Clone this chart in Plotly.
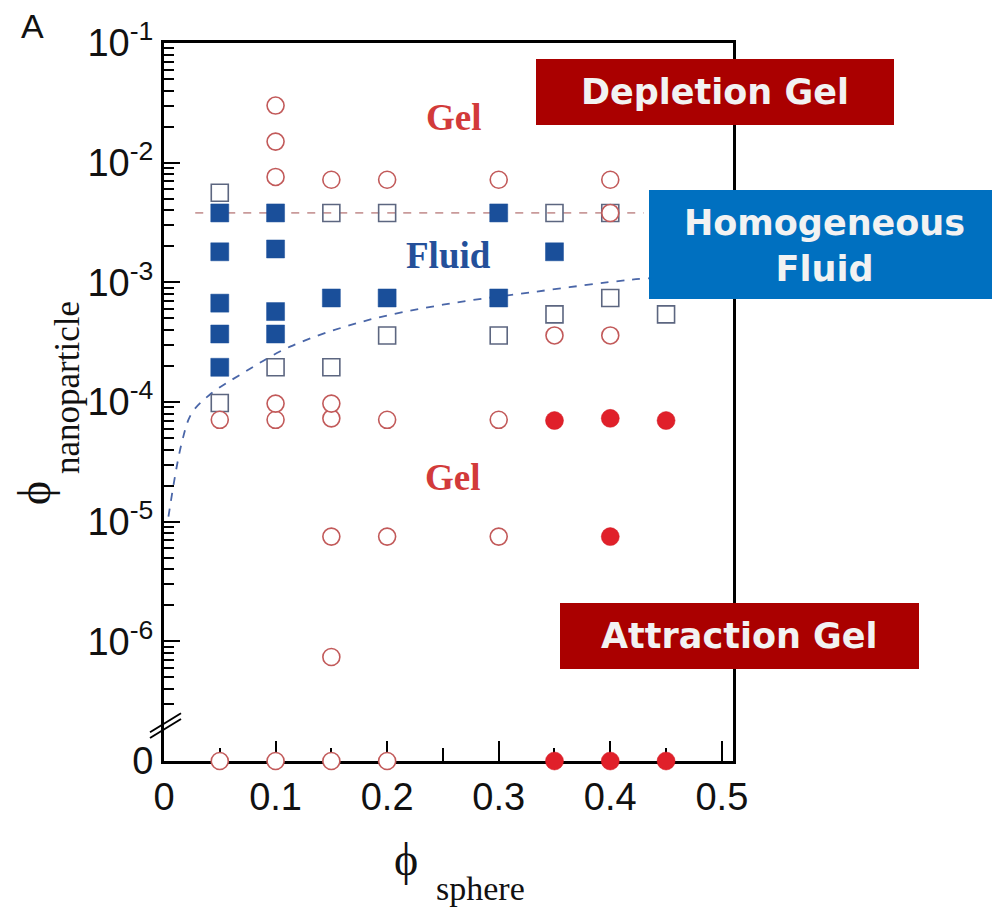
import plotly.graph_objects as go

# ---------------- data ----------------
ZERO_AT = 1e-7  # where "0" is drawn on the broken log axis

gel_open_x = [0.1, 0.1, 0.1, 0.15, 0.2, 0.3, 0.4, 0.4, 0.35, 0.4,
              0.05, 0.1, 0.15, 0.2, 0.3, 0.1, 0.15,
              0.15, 0.2, 0.3, 0.15, 0.05, 0.1, 0.15, 0.2]
gel_open_y = [3.0e-2, 1.5e-2, 7.6e-3, 7.2e-3, 7.2e-3, 7.2e-3, 7.2e-3, 3.8e-3, 3.6e-4, 3.6e-4,
              7.1e-5, 7.1e-5, 7.3e-5, 7.1e-5, 7.1e-5, 9.7e-5, 9.7e-5,
              7.5e-6, 7.5e-6, 7.5e-6, 7.4e-7, 0, 0, 0, 0]

gel_fill_x = [0.35, 0.4, 0.45, 0.4, 0.35, 0.4, 0.45]
gel_fill_y = [7.0e-5, 7.3e-5, 7.0e-5, 7.5e-6, 0, 0, 0]

fluid_fill_x = [0.05, 0.05, 0.05, 0.05, 0.05, 0.1, 0.1, 0.1, 0.1, 0.15, 0.2, 0.3, 0.3, 0.35]
fluid_fill_y = [3.8e-3, 1.8e-3, 6.7e-4, 3.7e-4, 1.95e-4, 3.8e-3, 1.9e-3, 5.7e-4, 3.7e-4,
                7.4e-4, 7.4e-4, 3.8e-3, 7.4e-4, 1.8e-3]

fluid_open_x = [0.05, 0.05, 0.1, 0.15, 0.15, 0.2, 0.2, 0.3, 0.35, 0.35, 0.4, 0.4, 0.45]
fluid_open_y = [5.6e-3, 9.8e-5, 1.95e-4, 3.8e-3, 1.95e-4, 3.8e-3, 3.6e-4, 3.6e-4,
                3.8e-3, 5.4e-4, 3.8e-3, 7.4e-4, 5.4e-4]

depl_line_x = [0.028, 0.43]
depl_line_y = [3.8e-3, 3.8e-3]

attr_line_x = [0.004, 0.016, 0.025, 0.041, 0.071, 0.113, 0.178, 0.25, 0.331, 0.418, 0.45]
attr_line_y = [1.1e-5, 4.6e-5, 8.1e-5, 1.15e-4, 1.75e-4, 2.9e-4, 4.7e-4, 6.5e-4, 8.3e-4, 1.05e-3, 1.1e-3]

x_tickvals = [0, 0.1, 0.2, 0.3, 0.4, 0.5]
x_ticktext = ["0", "0.1", "0.2", "0.3", "0.4", "0.5"]
x_minor = [0.05, 0.15, 0.25, 0.35, 0.45]

y_tickvals = [ZERO_AT, 1e-6, 1e-5, 1e-4, 1e-3, 1e-2, 1e-1]
y_ticktext = ["0", "10<sup>-6</sup>", "10<sup>-5</sup>", "10<sup>-4</sup>",
              "10<sup>-3</sup>", "10<sup>-2</sup>", "10<sup>-1</sup>"]


def z(vals):
    return [ZERO_AT if v == 0 else v for v in vals]


y_minor = [m * 10 ** e for e in range(-7, -1) for m in range(2, 10)
           if not (e == -7 and m < 3)]

# ---------------- figure ----------------
fig = go.Figure()

fig.add_trace(go.Scatter(x=depl_line_x, y=depl_line_y, mode="lines",
                         line=dict(color="#c99a9a", width=1.8, dash="8px,8px"),
                         hoverinfo="skip", showlegend=False))
fig.add_trace(go.Scatter(x=attr_line_x, y=attr_line_y, mode="lines", line_shape="spline",
                         line=dict(color="#4a66a8", width=1.8, dash="8px,8px"),
                         hoverinfo="skip", showlegend=False))

fig.add_trace(go.Scatter(x=fluid_open_x, y=fluid_open_y, mode="markers", cliponaxis=False,
                         marker=dict(symbol="square-open", size=17, color="#5c6680",
                                     line=dict(color="#5c6680", width=1.6)),
                         showlegend=False))
fig.add_trace(go.Scatter(x=fluid_fill_x, y=fluid_fill_y, mode="markers", cliponaxis=False,
                         marker=dict(symbol="square", size=18, color="#1a4f9a",
                                     line=dict(color="#1a4f9a", width=0.5)),
                         showlegend=False))
fig.add_trace(go.Scatter(x=gel_open_x, y=z(gel_open_y), mode="markers", cliponaxis=False,
                         marker=dict(symbol="circle", size=17, color="white",
                                     line=dict(color="#c25a5a", width=1.6)),
                         showlegend=False))
fig.add_trace(go.Scatter(x=gel_fill_x, y=z(gel_fill_y), mode="markers", cliponaxis=False,
                         marker=dict(symbol="circle", size=18, color="#e0202a",
                                     line=dict(color="#d01820", width=0.5)),
                         showlegend=False))

L, R, T, B = 164, 733, 43, 761
W, H = 992, 909


def px(x):
    return (x - L) / (R - L)


def py(y):
    return (B - y) / (B - T)


fig.update_layout(
    width=W, height=H,
    margin=dict(l=L, r=W - R, t=T, b=H - B),
    paper_bgcolor="white", plot_bgcolor="white",
    xaxis=dict(range=[0, 0.51], tickvals=x_tickvals, ticktext=x_ticktext,
               ticks="inside", ticklen=20, tickwidth=2, tickcolor="black",
               showline=True, linecolor="black", linewidth=3, mirror=True,
               showgrid=False, zeroline=False, layer="below traces",
               tickfont=dict(family="Liberation Sans, Arial", size=38, color="#111"),
               minor=dict(tickvals=x_minor, ticks="inside", ticklen=13, tickwidth=2,
                          tickcolor="black", showgrid=False)),
    yaxis=dict(type="log", range=[-7, -1], tickvals=y_tickvals, ticktext=y_ticktext,
               ticks="inside", ticklen=16, tickwidth=2, tickcolor="black",
               showline=True, linecolor="black", linewidth=3, mirror=True,
               showgrid=False, zeroline=False, layer="below traces",
               tickfont=dict(family="Liberation Sans, Arial", size=38, color="#111"),
               minor=dict(tickvals=y_minor, ticks="inside", ticklen=10, tickwidth=2,
                          tickcolor="black", showgrid=False)),
)

# axis break marks
for dy in (0.0, 0.008):
    fig.add_shape(type="line", xref="paper", yref="paper",
                  x0=px(150), y0=py(738) + dy, x1=px(181), y1=py(719) + dy,
                  line=dict(color="black", width=2), layer="above")

# region boxes
boxes = [
    dict(x0=536, x1=894, y0=59, y1=125, color="#aa0000"),
    dict(x0=649, x1=992, y0=190, y1=299, color="#0070c0"),
    dict(x0=560, x1=919, y0=603, y1=669, color="#aa0000"),
]
for b in boxes:
    fig.add_shape(type="rect", xref="paper", yref="paper",
                  x0=px(b["x0"]), x1=px(b["x1"]), y0=py(b["y1"]), y1=py(b["y0"]),
                  fillcolor=b["color"], line=dict(width=0), layer="above")

box_font = dict(family="DejaVu Sans", size=35, color="#f2f2f2")
serif = "Liberation Serif, Times New Roman"
ann = [
    dict(text="<b>Depletion Gel</b>", x=px(715), y=py(92), font=box_font),
    dict(text="<b>Homogeneous<br>Fluid</b>", x=px(824), y=py(246), font=box_font),
    dict(text="<b>Attraction Gel</b>", x=px(739), y=py(636), font=box_font),
    dict(text="<b>Gel</b>", x=px(453), y=py(117),
         font=dict(family=serif, size=37, color="#d23a3a")),
    dict(text="<b>Fluid</b>", x=px(448), y=py(255),
         font=dict(family=serif, size=37, color="#24509a")),
    dict(text="<b>Gel</b>", x=px(452), y=py(478),
         font=dict(family=serif, size=37, color="#d23a3a")),
    dict(text="\u03d5", x=px(34), y=py(493), textangle=-90,
         font=dict(family="Liberation Serif, DejaVu Serif", size=46, color="#111")),
    dict(text="nanoparticle", x=px(67), y=py(388), textangle=-90,
         font=dict(family=serif, size=35, color="#111")),
    dict(text="\u03d5", x=px(406), y=py(860),
         font=dict(family="Liberation Serif, DejaVu Serif", size=46, color="#111")),
    dict(text="sphere", x=px(480), y=py(888),
         font=dict(family=serif, size=34, color="#111")),
    dict(text="A", x=px(32), y=py(26),
         font=dict(family="Liberation Sans, Arial", size=34, color="#111")),
]
for a in ann:
    a.update(xref="paper", yref="paper", showarrow=False, xanchor="center", yanchor="middle")
    fig.add_annotation(**a)

fig.write_html("out.html", config={"displayModeBar": False},
               post_script="document.body.style.margin='0';document.body.style.padding='0';")
